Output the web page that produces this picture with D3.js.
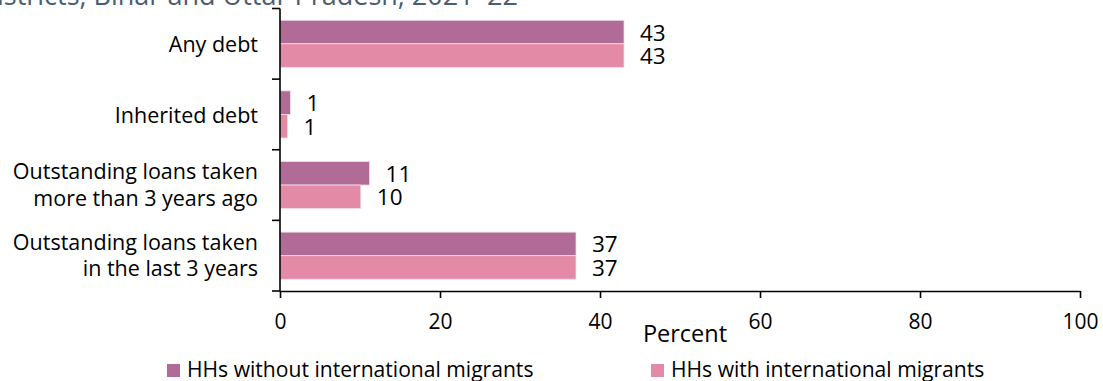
<!DOCTYPE html>
<html>
<head>
<meta charset="utf-8">
<script src="https://cdn.jsdelivr.net/npm/d3@7"></script>
<style>
  html, body { margin: 0; padding: 0; background: #fff; }
  svg { display: block; }
  text { font-family: "Open Sans", "Liberation Sans", sans-serif; }
</style>
</head>
<body>
<svg id="chart" width="1103" height="381"></svg>
<script>
// ---- data ----
const titleText = "in selected districts, Bihar and Uttar Pradesh, 2021–22";
const categories = [
  ["Any debt"],
  ["Inherited debt"],
  ["Outstanding loans taken", "more than 3 years ago"],
  ["Outstanding loans taken", "in the last 3 years"]
];
const categoryKeys = ["any", "inherited", "older", "recent"];
const seriesNames = ["HHs without international migrants", "HHs with international migrants"];
const withoutMigrants = [43, 1.3, 11.2, 37];
const withMigrants = [43, 0.95, 10.1, 37];
const withoutLabels = ["43", "1", "11", "37"];
const withLabels = ["43", "1", "10", "37"];
const xTicks = [0, 20, 40, 60, 80, 100];
const xTitle = "Percent";
const colors = ["#b06c96", "#e38aa6"];

// ---- layout ----
const svg = d3.select("#chart");
const x = d3.scaleLinear().domain([0, 100]).range([280, 1080]);
const y = d3.scaleBand().domain(categoryKeys).range([8.5, 291]).padding(0);
const ySub = d3.scaleBand().domain([0, 1]).range([0, y.bandwidth()]).paddingInner(0).paddingOuter(0.5);

// title (clipped at top/left as in reference)
svg.append("text")
  .attr("x", 518).attr("y", 5)
  .attr("text-anchor", "end")
  .attr("font-size", 27)
  .attr("fill", "#4b5d73")
  .text(titleText);

// bars
const seriesVals = [withoutMigrants, withMigrants];
const seriesLabels = [withoutLabels, withLabels];
seriesVals.forEach((vals, s) => {
  const g = svg.append("g");
  g.selectAll("rect").data(vals).join("rect")
    .attr("x", x(0))
    .attr("y", (d, i) => y(categoryKeys[i]) + ySub(s))
    .attr("width", d => x(d) - x(0))
    .attr("height", ySub.bandwidth())
    .attr("fill", colors[s])
    .attr("stroke", "#f3dde8")
    .attr("stroke-width", 0.8);
  g.selectAll("text").data(vals).join("text")
    .attr("x", d => x(d) + 16)
    .attr("y", (d, i) => y(categoryKeys[i]) + ySub(s) + ySub.bandwidth() / 2 + 8.5)
    .attr("font-size", 22.5)
    .attr("fill", "#000")
    .text((d, i) => seriesLabels[s][i]);
});

// y axis (ticks at band boundaries)
const yAxis = svg.append("g");
const boundaries = categoryKeys.map(k => y(k)).concat([y.range()[1]]);
yAxis.append("line")
  .attr("x1", x(0)).attr("x2", x(0))
  .attr("y1", boundaries[0]).attr("y2", boundaries[boundaries.length - 1])
  .attr("stroke", "#000").attr("stroke-width", 1.6);
yAxis.selectAll("line.tick").data(boundaries).join("line")
  .attr("class", "tick")
  .attr("x1", x(0) - 8).attr("x2", x(0))
  .attr("y1", d => d).attr("y2", d => d)
  .attr("stroke", "#000").attr("stroke-width", 1.6);

// category labels
categories.forEach((lines, i) => {
  const cy = y(categoryKeys[i]) + y.bandwidth() / 2;
  const lh = 26.3;
  const off = lines.length === 1 ? 8.5 : 7.5;
  const t = svg.append("text")
    .attr("text-anchor", "end")
    .attr("font-size", 21.5)
    .attr("fill", "#000");
  lines.forEach((ln, j) => {
    t.append("tspan")
      .attr("x", 258)
      .attr("y", cy + off + (j - (lines.length - 1) / 2) * lh)
      .text(ln);
  });
});

// x axis
const xAxis = svg.append("g")
  .attr("transform", "translate(0,291)")
  .call(d3.axisBottom(x).tickValues(xTicks).tickSize(7).tickSizeOuter(0).tickPadding(16));
xAxis.select(".domain").attr("stroke", "#000").attr("stroke-width", 1.6);
xAxis.selectAll(".tick line").attr("stroke", "#000").attr("stroke-width", 1.6);
xAxis.selectAll(".tick text")
  .attr("font-family", "Open Sans, Liberation Sans, sans-serif")
  .attr("font-size", 21)
  .attr("fill", "#000");

svg.append("text")
  .attr("x", 685).attr("y", 341.5)
  .attr("text-anchor", "middle")
  .attr("font-size", 23.5)
  .attr("fill", "#000")
  .text(xTitle);

// legend
const legendX = [167, 651];
seriesNames.forEach((name, s) => {
  svg.append("rect")
    .attr("x", legendX[s]).attr("y", 364)
    .attr("width", 13).attr("height", 13)
    .attr("fill", colors[s]);
  svg.append("text")
    .attr("x", legendX[s] + 20).attr("y", 377)
    .attr("font-size", 21.1)
    .attr("fill", "#000")
    .text(name);
});
</script>
</body>
</html>
